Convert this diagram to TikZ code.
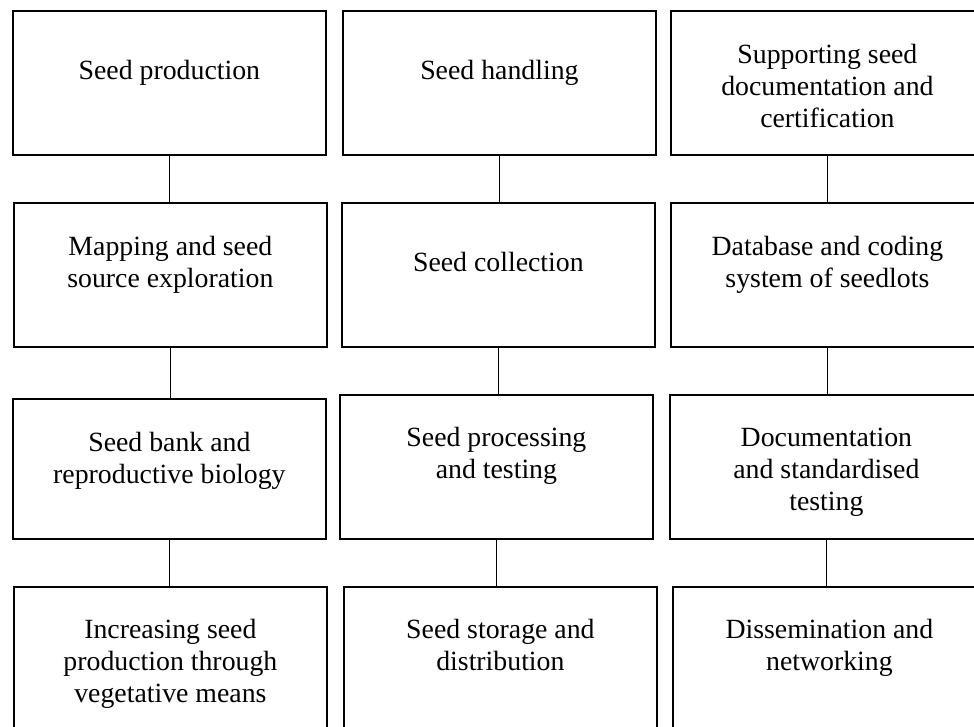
\documentclass[tikz,border=0pt]{standalone}
\usepackage{fontspec}
\setmainfont{Liberation Serif}
\begin{document}
\begin{tikzpicture}[x=1pt,y=-1pt,
    box/.style={draw,line width=1.8pt,anchor=north west,minimum width=313pt,minimum height=144pt,inner sep=0pt},
    txt/.style={anchor=base,align=center,inner sep=0pt,font=\fontsize{27.8}{32}\selectfont},
    link/.style={line width=1.6pt}]
  \useasboundingbox (0,0) rectangle (974,726);
  \clip (0,0) rectangle (974,726);
  % first column (text placed by the baseline of its last line)
  \node[box] (prod) at (12,10) {};
  \node[box] (mapping) at (13,202) {};
  \node[box,minimum height=140pt] (bank) at (12,398) {};
  \node[box,minimum height=160pt] (veget) at (13,586) {};
  \node[txt] (prodtxt) at (prod.center |- 0,79) {Seed production};
  \node[txt] (mappingtxt) at (mapping.center |- 0,287) {Mapping and seed\\source exploration};
  \node[txt] (banktxt) at (bank.center |- 0,483) {Seed bank and\\reproductive biology};
  \node[txt] (vegettxt) at (veget.center |- 0,702) {Increasing seed\\production through\\vegetative means};
  % second column
  \node[box] (handling) at (342,10) {};
  \node[box] (collect) at (341,202) {};
  \node[box] (process) at (339,394) {};
  \node[box,minimum height=160pt] (storage) at (343,586) {};
  \node[txt] (handlingtxt) at (handling.center |- 0,79) {Seed handling};
  \node[txt] (collecttxt) at (collect.center |- 0,271) {Seed collection};
  \node[txt] (processtxt) at (process.center |- 0,478) {Seed processing\\and testing};
  \node[txt] (storagetxt) at (storage.center |- 0,670) {Seed storage and\\distribution};
  % third column
  \node[box] (support) at (670,10) {};
  \node[box] (database) at (670,202) {};
  \node[box] (docu) at (669,394) {};
  \node[box,minimum height=160pt] (dissem) at (672,586) {};
  \node[txt] (supporttxt) at (support.center |- 0,127) {Supporting seed\\documentation and\\certification};
  \node[txt] (databasetxt) at (database.center |- 0,287) {Database and coding\\system of seedlots};
  \node[txt] (docutxt) at (docu.center |- 0,510) {Documentation\\and standardised\\testing};
  \node[txt] (dissemtxt) at (dissem.center |- 0,670) {Dissemination and\\networking};
  % links
  \foreach \a/\b in {prod/mapping,mapping/bank,bank/veget,handling/collect,collect/process,process/storage,support/database,database/docu,docu/dissem}
    \draw[link] (\a.south) -- (\a.south |- \b.north);
\end{tikzpicture}
\end{document}
